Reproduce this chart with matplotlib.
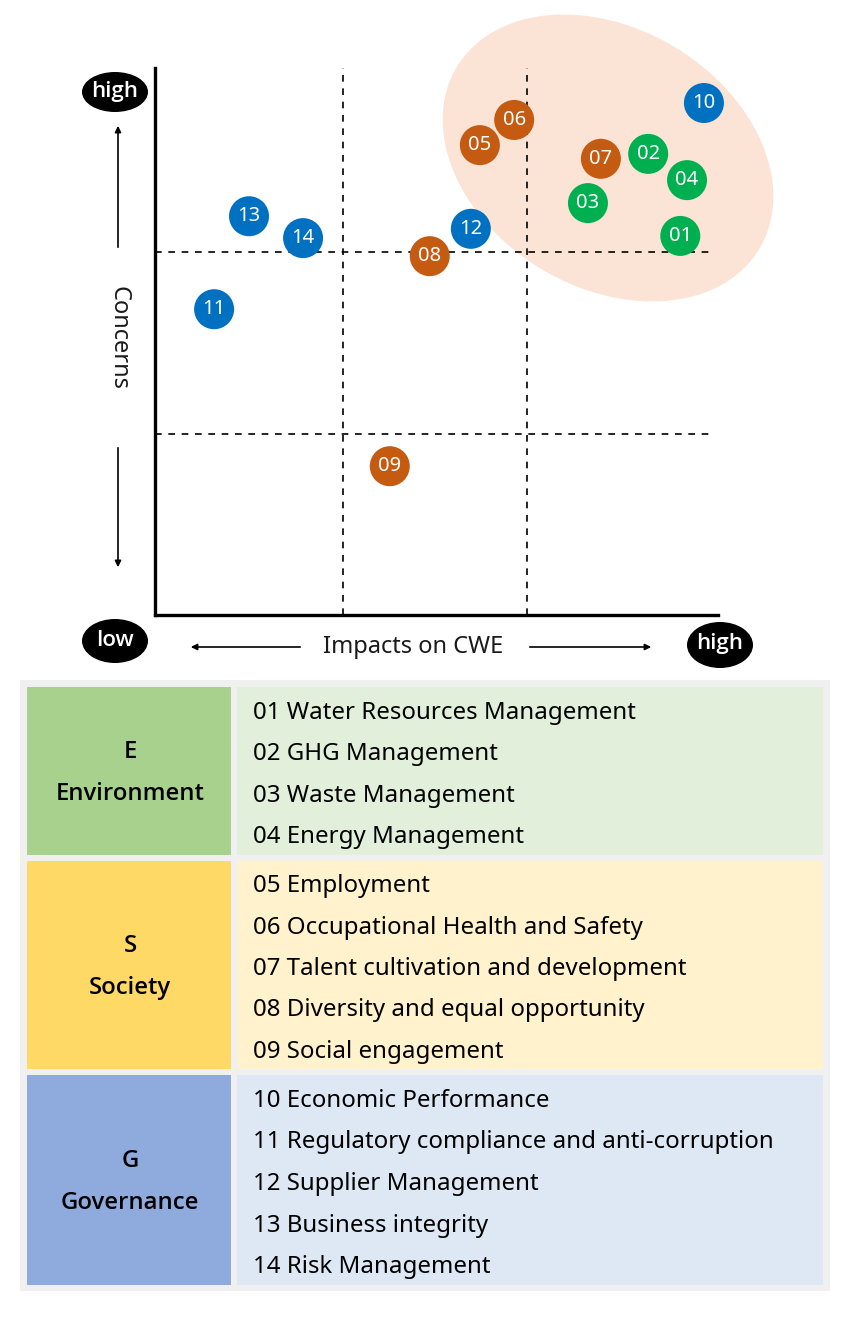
import matplotlib
matplotlib.use("Agg")
import matplotlib.pyplot as plt
from matplotlib.patches import Ellipse, Rectangle, FancyArrowPatch

plt.rcParams['font.family'] = ['Noto Sans', 'DejaVu Sans']

# ---------------- data ----------------
ids = ['01', '02', '03', '04', '05', '06', '07', '08', '09', '10', '11', '12', '13', '14']
impact = [93.3, 87.6, 76.9, 94.5, 57.7, 63.8, 79.2, 48.8, 41.7, 97.5, 10.5, 56.1, 16.7, 26.3]
concern = [69.3, 84.3, 75.3, 79.5, 85.9, 90.5, 83.4, 65.6, 27.2, 93.6, 55.9, 70.6, 72.9, 68.9]
group = ['E', 'E', 'E', 'E', 'S', 'S', 'S', 'S', 'S', 'G', 'G', 'G', 'G', 'G']

group_colors = {'E': '#00B050', 'S': '#C55A11', 'G': '#0070C0'}
x_thresholds = [33.4, 66.1]
y_thresholds = [33.1, 66.4]

cat_letters = ['E', 'S', 'G']
cat_names = ['Environment', 'Society', 'Governance']
cat_dark = ['#A9D18E', '#FFD966', '#8FAADC']
cat_light = ['#E2EFDA', '#FFF2CC', '#DEE8F5']
items_E = ['01 Water Resources Management', '02 GHG Management', '03 Waste Management',
           '04 Energy Management']
items_S = ['05 Employment', '06 Occupational Health and Safety',
           '07 Talent cultivation and development', '08 Diversity and equal opportunity',
           '09 Social engagement']
items_G = ['10 Economic Performance', '11 Regulatory compliance and anti-corruption',
           '12 Supplier Management', '13 Business integrity', '14 Risk Management']
items = [items_E, items_S, items_G]

W, H = 860, 1320
fig = plt.figure(figsize=(W / 100, H / 100), dpi=100)

# overlay axes in pixel coordinates for decorations and table
ov = fig.add_axes([0, 0, 1, 1])
ov.set_xlim(0, W)
ov.set_ylim(H, 0)
ov.axis('off')

# highlight ellipse (pixel space)
ov.add_patch(Ellipse((608, 158), 353, 259, angle=31, facecolor='#FBE4D6',
                     edgecolor='none', zorder=0))

# ---------------- main matrix axes ----------------
x0, x1, ytop, ybot = 155, 718, 68, 615
ax = fig.add_axes([x0 / W, 1 - ybot / H, (x1 - x0) / W, (ybot - ytop) / H])
ax.patch.set_alpha(0)
ax.set_xlim(0, 100)
ax.set_ylim(0, 100)
for s in ['top', 'right']:
    ax.spines[s].set_visible(False)
for s in ['left', 'bottom']:
    ax.spines[s].set_linewidth(2.4)
    ax.spines[s].set_color('black')
ax.set_xticks([])
ax.set_yticks([])

# threshold lines
for t in x_thresholds:
    ax.plot([t, t], [0, 100], ls=(0, (4, 4)), color='black', lw=1.2, zorder=1, clip_on=False)
for t in y_thresholds:
    ax.plot([0, 98.5], [t, t], ls=(0, (4, 4)), color='black', lw=1.2, zorder=1, clip_on=False)

for i, (xi, yi, g) in enumerate(zip(impact, concern, group)):
    ax.scatter([xi], [yi], s=830, color=group_colors[g], edgecolors='none', zorder=3 + i,
               clip_on=False)
    ax.text(xi, yi, ids[i], color='white', ha='center', va='center', fontsize=14.5,
            zorder=3 + i)

# axis end labels
def pill(cx, cy, w, h, txt):
    ov.add_patch(Ellipse((cx, cy), w, h, facecolor='black', edgecolor='none'))
    ov.text(cx, cy - 1, txt, color='white', ha='center', va='center', fontsize=16,
            family=['Open Sans', 'DejaVu Sans'], fontweight='semibold')

pill(115, 92, 66, 40, 'high')
pill(115, 641, 66, 44, 'low')
pill(720, 645, 66, 46, 'high')

arrow_kw = dict(arrowstyle='-|>', mutation_scale=9, color='black', lw=1.2)
ov.add_patch(FancyArrowPatch((118, 250), (118, 123), **arrow_kw))
ov.add_patch(FancyArrowPatch((118, 445), (118, 570), **arrow_kw))
ov.text(118, 338, 'Concerns', rotation=-90, ha='center', va='center', fontsize=17,
        color='#1a1a1a')
ov.add_patch(FancyArrowPatch((303, 647), (188, 647), **arrow_kw))
ov.add_patch(FancyArrowPatch((527, 647), (654, 647), **arrow_kw))
ov.text(413, 647, 'Impacts on CWE', ha='center', va='center', fontsize=17,
        color='#1a1a1a')

# ---------------- table ----------------
ov.add_patch(Rectangle((20, 680), 810, 611, facecolor='#F0F0F0', edgecolor='none'))
row_tops = [687, 861, 1075]
row_bots = [855, 1069, 1285]
line_gap = 41.5
for k in range(3):
    t, b = row_tops[k], row_bots[k]
    ov.add_patch(Rectangle((27, t), 204, b - t, facecolor=cat_dark[k], edgecolor='none'))
    ov.add_patch(Rectangle((237, t), 586, b - t, facecolor=cat_light[k], edgecolor='none'))
    mid = (t + b) / 2
    ov.text(130, mid - 19, cat_letters[k], ha='center', va='center', fontsize=17.2,
            family=['Open Sans', 'DejaVu Sans'], fontweight='semibold')
    ov.text(130, mid + 23, cat_names[k], ha='center', va='center', fontsize=17.2,
            family=['Open Sans', 'DejaVu Sans'], fontweight='semibold')
    n = len(items[k])
    first = mid - (n - 1) / 2 * line_gap + 4
    for j, it in enumerate(items[k]):
        ov.text(253, first + j * line_gap, it, ha='left', va='center', fontsize=17.3)

fig.savefig('out.png', dpi=100)
